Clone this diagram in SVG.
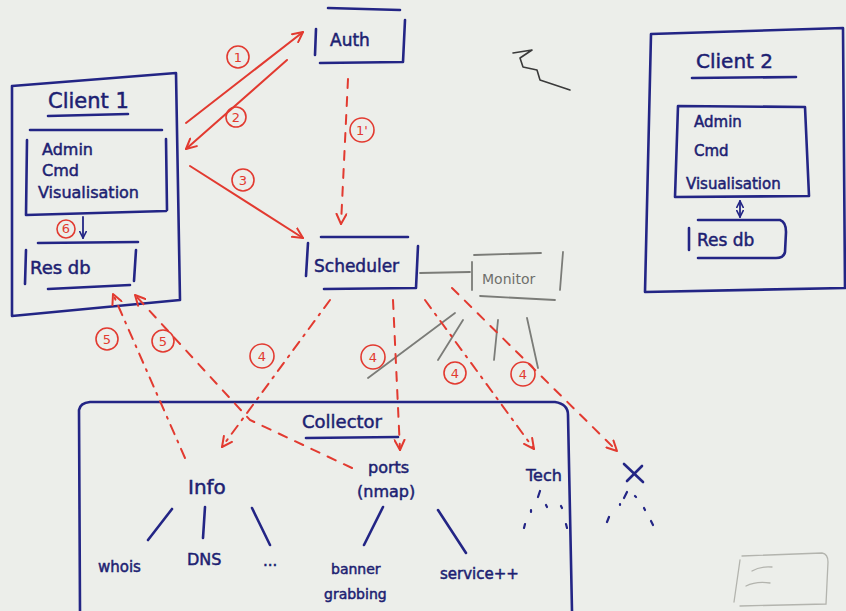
<svg xmlns="http://www.w3.org/2000/svg" width="846" height="611" viewBox="0 0 846 611">
<defs>
<marker id="ah" viewBox="0 0 12 12" refX="11" refY="6" markerWidth="12" markerHeight="12" markerUnits="userSpaceOnUse" orient="auto">
<path d="M1,1 L11,6 L1,11" fill="none" stroke="#e23a30" stroke-width="2" stroke-linecap="round" stroke-linejoin="round"/>
</marker>
<marker id="ahb" viewBox="0 0 10 10" refX="9" refY="5" markerWidth="8" markerHeight="8" markerUnits="userSpaceOnUse" orient="auto-start-reverse">
<path d="M1,1 L9,5 L1,9" fill="none" stroke="#232585" stroke-width="2" stroke-linecap="round"/>
</marker>
</defs>
<style>
.ink{fill:none;stroke:#232585;stroke-width:2.6;stroke-linecap:round;stroke-linejoin:round}
.grey{fill:none;stroke:#7b7c78;stroke-width:1.8;stroke-linecap:round}
.red{fill:none;stroke:#e23a30;stroke-width:2;stroke-linecap:round}
.dash{stroke-dasharray:9 9}
.dashdot{stroke-dasharray:10 7 2 7}
.t{font-family:"DejaVu Sans",sans-serif;fill:#1d1f72;stroke:#1d1f72;stroke-width:0.5}
.tg{font-family:"DejaVu Sans",sans-serif;fill:#6f706c}
.rl{font-family:"DejaVu Sans",sans-serif;fill:#e23a30;font-size:13px;text-anchor:middle}
.rc{fill:none;stroke:#e23a30;stroke-width:1.6}
</style>
<rect width="846" height="611" fill="#eceeea"/>

<g id="client1">
<path class="ink" d="M12,86 L176,73 L180,300 L12,316 Z"/>
<text class="t" x="48" y="108" font-size="21">Client 1</text>
<path class="ink" d="M48,116 L128,114"/>
<path class="ink" d="M30,130 L162,130 M166,139 L167,210 M27,140 L26,215 L166,211"/>
<text class="t" x="42" y="155" font-size="16">Admin</text>
<text class="t" x="42" y="176" font-size="16">Cmd</text>
<text class="t" x="38" y="198" font-size="16">Visualisation</text>
<path class="ink" d="M83,217 L83,238" marker-end="url(#ahb)" style="stroke-width:1.8"/>
<circle class="rc" cx="66" cy="229" r="9"/>
<text class="rl" x="66" y="233" font-size="12">6</text>
<path class="ink" d="M38,243 L138,242 M26,250 L25,284 M136,250 L134,281 M48,289 L130,285"/>
<text class="t" x="30" y="274" font-size="18">Res db</text>
</g>

<g id="auth">
<path class="ink" d="M328,8 L400,10 M316,29 L315,55 M405,20 L403,62 L320,63"/>
<text class="t" x="330" y="46" font-size="17">Auth</text>
</g>

<g id="scheduler">
<path class="ink" d="M321,237 L408,237 M308,243 L306,276 M418,246 L416,288 L324,289"/>
<text class="t" x="314" y="272" font-size="17">Scheduler</text>
</g>

<g id="monitor">
<path class="grey" d="M474,255 L541,253 M472,262 L472,290 M563,252 L560,290 M480,296 L555,300 M420,273 L470,272"/>
<text class="tg" x="482" y="284" font-size="14">Monitor</text>
<path class="grey" d="M455,313 L368,378 M463,320 L438,360 M498,320 L494,360 M527,318 L538,368"/>
</g>

<g id="client2">
<path class="ink" d="M651,34 L843,28 L845,288 L645,292 Z"/>
<text class="t" x="696" y="68" font-size="20">Client 2</text>
<path class="ink" d="M692,78 L796,77"/>
<path class="ink" d="M678,106 L805,107 L809,196 L675,197 Z"/>
<text class="t" x="694" y="127" font-size="15">Admin</text>
<text class="t" x="694" y="156" font-size="15">Cmd</text>
<text class="t" x="686" y="189" font-size="15">Visualisation</text>
<path class="ink" d="M740,201 L740,217" marker-start="url(#ahb)" marker-end="url(#ahb)" style="stroke-width:1.8"/>
<path class="ink" d="M698,220 L780,220 Q786,222 786,232 L785,252 Q784,258 776,258 L698,258 M689,228 L689,250"/>
<text class="t" x="697" y="246" font-size="17">Res db</text>
</g>

<g id="collector">
<path class="ink" d="M80,611 L79,410 Q80,403 90,402 L555,402 Q568,404 568,415 L572,611"/>
<text class="t" x="302" y="428" font-size="18">Collector</text>
<path class="ink" d="M306,438 L398,437"/>
</g>

<g id="info">
<text class="t" x="188" y="494" font-size="20">Info</text>
<path class="ink" d="M172,509 L148,540 M205,507 L203,538 M252,508 L270,545"/>
<text class="t" x="98" y="572" font-size="15">whois</text>
<text class="t" x="187" y="565" font-size="16">DNS</text>
<text class="t" x="263" y="566" font-size="15">...</text>
</g>

<g id="ports">
<text class="t" x="368" y="473" font-size="16">ports</text>
<text class="t" x="357" y="497" font-size="16">(nmap)</text>
<path class="ink" d="M383,507 L364,545 M438,510 L466,553"/>
<text class="t" x="331" y="574" font-size="14">banner</text>
<text class="t" x="324" y="599" font-size="14">grabbing</text>
<text class="t" x="440" y="579" font-size="15">service++</text>
</g>

<g id="tech">
<text class="t" x="526" y="481" font-size="16">Tech</text>
<path class="ink" d="M540,491 L538,497 M525,524 L524,528 M546,505 L547,507 M531,510 L531,512 M561,506 L562,508 M566,524 L567,528" style="stroke-width:2.2"/>
</g>

<g id="x">
<path class="ink" d="M624,464 L643,482 M642,466 L627,481"/>
<path class="ink" d="M627,492 L624,498 M620,504 L620,505 M609,517 L607,522 M635,496 L636,497 M644,508 L645,510 M651,521 L653,525" style="stroke-width:2.2"/>
</g>

<g id="connectors">
<path class="red" d="M186,123 L303,32" marker-end="url(#ah)"/>
<path class="red" d="M287,60 L186,149" marker-end="url(#ah)"/>
<path class="red" d="M190,166 L303,238" marker-end="url(#ah)"/>
<path class="red dash" d="M348,79 L341,224" marker-end="url(#ah)"/>
<path class="red dashdot" d="M330,300 L222,447" marker-end="url(#ah)"/>
<path class="red dash" d="M393,300 L400,450" marker-end="url(#ah)"/>
<path class="red dashdot" d="M425,300 L534,449" marker-end="url(#ah)"/>
<path class="red dash" d="M452,288 L617,451" marker-end="url(#ah)"/>
<path class="red dashdot" d="M185,458 L113,294" marker-end="url(#ah)"/>
<path class="red dash" d="M352,468 L250,420 L135,295" marker-end="url(#ah)"/>
<circle class="rc" cx="238" cy="57" r="11"/><text class="rl" x="238" y="62">1</text>
<circle class="rc" cx="236" cy="117" r="10"/><text class="rl" x="236" y="122">2</text>
<circle class="rc" cx="243" cy="180" r="11"/><text class="rl" x="243" y="185">3</text>
<circle class="rc" cx="362" cy="130" r="12"/><text class="rl" x="362" y="135">1'</text>
<circle class="rc" cx="262" cy="356" r="12"/><text class="rl" x="262" y="361">4</text>
<circle class="rc" cx="373" cy="357" r="12"/><text class="rl" x="373" y="362">4</text>
<circle class="rc" cx="455" cy="373" r="11"/><text class="rl" x="455" y="378">4</text>
<circle class="rc" cx="523" cy="374" r="12"/><text class="rl" x="523" y="379">4</text>
<circle class="rc" cx="107" cy="339" r="11"/><text class="rl" x="107" y="344">5</text>
<circle class="rc" cx="163" cy="341" r="11"/><text class="rl" x="163" y="346">5</text>
</g>

<path d="M513,53 L532,50 L520,58 L523,67 L537,70 L540,80 L570,90" fill="none" stroke="#3a3a3a" stroke-width="1.6" stroke-linecap="round" stroke-linejoin="round"/>
<path d="M742,556 L822,553 Q828,554 828,562 L826,604 L740,606 M740,560 L734,602 M752,571 Q760,566 772,567 M746,586 Q756,581 770,583" fill="none" stroke="#b3b4ae" stroke-width="1.3" stroke-linecap="round"/>
</svg>
